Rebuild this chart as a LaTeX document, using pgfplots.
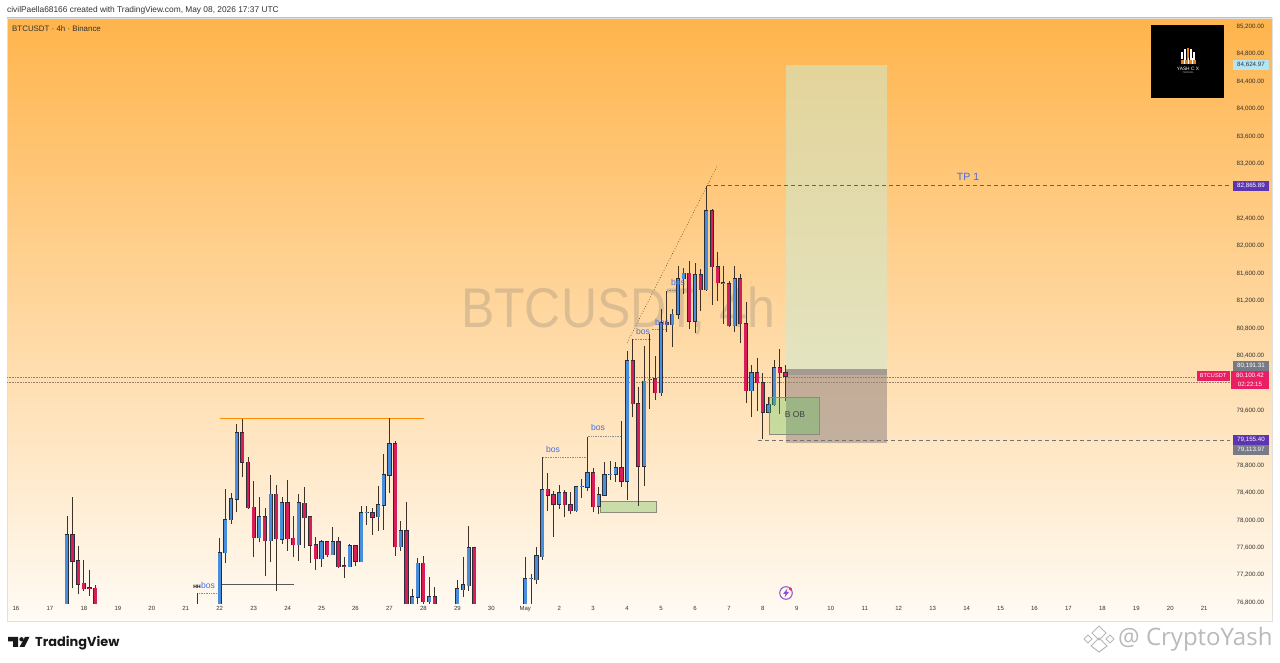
\documentclass[border=0pt]{standalone}
\usepackage{fontspec}
\setmainfont{Liberation Sans}
\newfontfamily\tvfont{Poppins}
\newfontfamily\wmfont{Open Sans}
\usepackage{pgfplots}
\usepackage{pgfplotstable}
\pgfplotsset{compat=1.18}
\definecolor{bgtop}{RGB}{255,180,76}
\definecolor{bgbot}{RGB}{255,251,245}
\definecolor{cblue}{RGB}{72,142,220}
\definecolor{cred}{RGB}{216,30,88}
\definecolor{wick}{RGB}{60,50,40}
\definecolor{edge}{RGB}{45,45,55}
\definecolor{txt}{RGB}{50,50,50}
\definecolor{tvpurple}{RGB}{94,53,177}
\definecolor{tvgrey}{RGB}{120,123,134}
\definecolor{tvpink}{RGB}{233,30,99}
\definecolor{bosblue}{RGB}{70,110,225}
\definecolor{profit}{RGB}{204,234,209}
\definecolor{loss}{RGB}{155,140,135}
\definecolor{band}{RGB}{165,155,146}
\definecolor{boxgreen}{RGB}{200,221,168}
\definecolor{boxedge}{RGB}{140,140,125}
\definecolor{bolt}{RGB}{140,80,210}
\definecolor{obgreen}{RGB}{71,200,83}
\definecolor{tvblue}{RGB}{179,229,245}
\definecolor{dotpink}{RGB}{190,110,90}
\definecolor{dotgrey}{RGB}{150,130,110}
\definecolor{tpdash}{RGB}{125,70,190}
\pgfplotstableread{
x o h l c
17.500 76700 78044 76650 77777
21.333 76600 76927 76600 76750
22.000 76700 77729 76650 77510
22.167 77510 78444 77359 77996
22.333 77992 78385 77933 78298
22.500 78292 79392 78103 79265
23.167 77729 78332 77665 78040
23.500 77690 78652 77373 78365
23.833 77709 78321 77642 78244
24.333 77627 78371 77398 78240
25.000 77423 77700 77300 77671
25.333 77486 77884 77486 77675
25.833 77311 77642 77311 77617
26.167 77384 78200 77384 78094
26.333 78094 78200 77923 78100
26.667 78035 78492 77836 78210
26.833 78204 78954 77846 78652
27.000 78642 79479 78390 79100
27.333 77602 77971 77544 77836
27.667 76700 76985 76650 76869
27.833 76863 77437 76700 77359
28.167 76800 77155 76700 76873
29.000 76700 77121 76650 76985
29.167 76971 77456 76873 77044
29.333 77033 77898 76961 77588
31.000 76700 77456 76650 77131
31.167 77131 77204 76700 77140
31.333 77117 77592 77058 77467
31.500 77456 78905 77408 78433
32.000 78219 78506 78152 78385
32.500 78123 78492 78103 78473
32.667 78473 78590 78312 78480
32.833 78467 79196 78419 78677
33.167 78190 78477 78079 78356
33.333 78350 78842 78346 78652
33.500 78652 78857 78579 78660
33.667 78657 78842 78550 78750
34.000 78555 80450 78283 80315
34.500 78773 80534 78492 80013
34.667 80033 80704 79610 80040
35.000 79844 81069 79804 80865
35.333 80840 81069 80509 80990
35.500 80990 81700 80923 81506
35.667 81506 81667 81287 81588
36.000 80888 81740 80719 81565
36.333 81346 82866 81336 82502
36.833 81440 81700 80850 81450
37.167 80821 81700 80727 81511
37.667 79877 80256 79488 80135
38.167 79561 79780 79561 79669
38.333 79669 80325 79658 80208
}\bluedata
\pgfplotstableread{
x o h l c
17.667 77777 78332 76994 77388
17.833 77394 77607 76907 77052
18.000 77067 77413 76961 76985
18.167 77000 77267 76888 76990
18.333 76994 77044 76650 76700
22.667 79265 79465 78623 78832
22.833 78832 78905 78152 78167
23.000 78175 78565 77446 77734
23.333 78040 78167 77169 77690
23.667 78365 78506 76961 77715
24.000 78244 78575 77544 77719
24.167 77723 78054 77456 77627
24.500 78234 78467 77577 78025
24.667 78035 78054 77365 77621
24.833 77627 77748 77262 77427
25.167 77675 77690 77446 77486
25.500 77675 77748 77286 77311
25.667 77325 77456 77146 77315
26.000 77617 77627 77321 77388
26.500 78094 78167 77767 78030
27.167 79100 79148 77467 77602
27.500 77836 78258 76650 76700
28.000 77359 77471 76700 76800
28.333 76873 77009 76650 76700
29.500 77588 77600 76650 76700
31.667 78438 78671 78127 78350
31.833 78361 78419 77748 78219
32.167 78385 78429 78030 78210
32.333 78210 78394 78079 78123
33.000 78677 78744 78103 78186
33.833 78750 79440 78477 78555
34.167 80315 80636 79488 79683
34.333 79683 79925 78200 78773
34.833 80048 80388 79742 79844
35.167 80873 81325 80727 80840
35.833 81588 81773 80777 80888
36.167 81569 81652 81044 81346
36.500 82502 82527 81131 81686
36.667 81686 81894 81190 81448
37.000 81433 81471 80810 80821
37.333 81511 81579 80567 80850
37.500 80850 81165 79692 79877
37.833 80135 80354 79575 79990
38.000 79990 80135 79173 79561
38.500 80208 80485 79537 80135
38.667 80135 80256 79731 80086
}\reddata
\newcommand\wicks[1]{\addplot[forget plot,no markers,draw=none,error bars/.cd,y dir=plus,y explicit,error mark=none,error bar style={line width=0.8pt,draw=wick}] table[x=x,y=l,y error plus expr=\thisrow{h}-\thisrow{l}] {#1};}
\begin{document}
\begin{tikzpicture}
\useasboundingbox (0,0) rectangle (1280pt,663pt);
\fill[white] (0,0) rectangle (1280pt,663pt);
\begin{scope}[x=1pt,y=-1pt,yshift=663pt]
  \shade[top color=bgtop,bottom color=bgbot] (7,18) rectangle (1272,621);
  \draw[black!12,line width=0.6pt] (7,18) rectangle (1272,621);
  \node[anchor=center,text=black!55,opacity=0.25,font=\fontsize{50}{50}\selectfont] at (618,311) {\scalebox{1}[1.12]{BTCUSDT, 4h}};
\end{scope}
\begin{axis}[
  at={(7pt,59.4pt)},anchor=south west,scale only axis,width=1223pt,height=585pt,
  xmin=15.735,xmax=51.76,ymin=76771,ymax=85302,
  axis line style={draw=none},major tick length=0pt,
  xtick={16,17,...,51},
  xticklabels={16,17,18,19,20,21,22,23,24,25,26,27,28,29,30,May,2,3,4,5,6,7,8,9,10,11,12,13,14,15,16,17,18,19,20,21},
  ytick={76800,77200,77600,78000,78400,78800,79600,80400,80800,81200,81600,82000,82400,83200,83600,84000,84400,84800,85200},
  scaled y ticks=false,
  yticklabel pos=right,
  /pgf/number format/fixed,
  /pgf/number format/fixed zerofill,
  /pgf/number format/precision=2,
  /pgf/number format/1000 sep={,},
  /pgf/number format/assume math mode=true,
  xticklabel style={font=\fontsize{6}{7}\selectfont,text=txt,yshift=1pt},
  yticklabel style={font=\fontsize{6.2}{7}\selectfont,text=txt,anchor=west,xshift=3pt,yshift=-1pt},
]
% position tool
\addplot[forget plot,fill=profit,fill opacity=0.55,draw=none] coordinates {(38.68,84624.97)(41.655,84624.97)(41.655,80191.31)(38.68,80191.31)} -- cycle;
\addplot[forget plot,fill=loss,fill opacity=0.6,draw=none] coordinates {(38.68,80100.42)(41.655,80100.42)(41.655,79113.97)(38.68,79113.97)} -- cycle;
\addplot[forget plot,fill=band,draw=none] coordinates {(38.68,80191.31)(41.655,80191.31)(41.655,80100.42)(38.68,80100.42)} -- cycle;
% horizontal levels
\addplot[forget plot,dotpink,densely dotted,line width=0.6pt] coordinates {(15.735,80067)(50.75,80067)};
\addplot[forget plot,dotgrey,densely dotted,line width=0.6pt] coordinates {(15.735,79994)(51.76,79994)};
\addplot[forget plot,tpdash,dash pattern=on 4pt off 3pt,line width=0.7pt] coordinates {(36.35,82866)(51.76,82866)};
\addplot[forget plot,black!55,dash pattern=on 4pt off 3pt,line width=0.7pt] coordinates {(37.86,79155)(51.76,79155)};
\addplot[forget plot,orange!90!yellow,line width=1.1pt] coordinates {(22.0,79476)(28.02,79476)};
\addplot[forget plot,black!65,line width=0.7pt] coordinates {(22.07,77058)(24.19,77058)};
\addplot[forget plot,black!45,densely dotted,line width=0.7pt] coordinates {(21.39,76927)(21.95,76927)};
\addplot[forget plot,black!45,densely dotted,line width=0.7pt] coordinates {(31.52,78905)(32.84,78905)};
\addplot[forget plot,black!45,densely dotted,line width=0.7pt] coordinates {(32.84,79211)(33.84,79211)};
\addplot[forget plot,black!45,densely dotted,line width=0.7pt] coordinates {(34.17,80621)(34.69,80621)};
\addplot[forget plot,black!45,densely dotted,line width=0.7pt] coordinates {(34.72,80763)(35.17,80763)};
\addplot[forget plot,black!45,densely dotted,line width=0.7pt] coordinates {(35.17,81336)(35.5,81336)};
\addplot[forget plot,black!40!brown,dotted,line width=0.7pt] coordinates {(34.0,80573)(36.67,83169)};
% boxes
\addplot[forget plot,fill=boxgreen,draw=boxedge,line width=0.8pt] coordinates {(33.2,78263)(34.85,78263)(34.85,78098)(33.2,78098)} -- cycle;
% candles
\wicks{\bluedata}
\wicks{\reddata}
\addplot[forget plot,no markers,draw=none,error bars/.cd,y dir=plus,y explicit,error mark=none,error bar style={line width=4.2pt,draw=edge}] table[x=x,y expr=\thisrow{o}-8,y error plus expr=\thisrow{c}-\thisrow{o}+16] {\bluedata};
\addplot[forget plot,no markers,draw=none,error bars/.cd,y dir=plus,y explicit,error mark=none,error bar style={line width=4.2pt,draw=edge}] table[x=x,y expr=\thisrow{c}-8,y error plus expr=\thisrow{o}-\thisrow{c}+16] {\reddata};
\addplot[forget plot,no markers,draw=none,error bars/.cd,y dir=plus,y explicit,error mark=none,error bar style={line width=2.9pt,draw=cblue}] table[x=x,y=o,y error plus expr=\thisrow{c}-\thisrow{o}] {\bluedata};
\addplot[forget plot,no markers,draw=none,error bars/.cd,y dir=plus,y explicit,error mark=none,error bar style={line width=2.9pt,draw=cred}] table[x=x,y=c,y error plus expr=\thisrow{o}-\thisrow{c}] {\reddata};
% B OB box over candles
\addplot[forget plot,fill=obgreen,fill opacity=0.3,draw=boxedge,line width=0.9pt] coordinates {(38.18,79780)(39.68,79780)(39.68,79231)(38.18,79231)} -- cycle;
\end{axis}
\begin{scope}[x=1pt,y=-1pt,yshift=663pt]
  \node[anchor=west,text=txt,inner sep=0,font=\fontsize{8.35}{9}\selectfont] at (7,10) {civilPaella68166 created with TradingView.com, May 08, 2026 17:37 UTC};
  \node[anchor=west,text=txt,inner sep=0,font=\fontsize{7.9}{9}\selectfont] at (12,29) {BTCUSDT · 4h · Binance};
  % annotations
  \begin{scope}[every node/.style={text=bosblue,inner sep=0,font=\fontsize{8.6}{10}\selectfont}]
    \node at (208,585) {bos};
    \node at (553,449) {bos};
    \node at (598,427) {bos};
    \node at (643,331) {bos};
    \node at (662,322) {bos};
    \node at (678,282) {bos};
    \node[font=\fontsize{10.5}{12}\selectfont] at (968,177) {TP 1};
  \end{scope}
  \node[text=black,inner sep=0,font=\bfseries\fontsize{5}{6}\selectfont] at (197,586.5) {HH};
  \node[text=black!75,inner sep=0,font=\fontsize{8.5}{10}\selectfont] at (795,415) {B OB};
  % lightning
  \draw[bolt,line width=1pt] (786,593) circle (6.3);
  \fill[bolt] (787.5,588.5) -- (783,594) -- (785.5,594) -- (784.5,597.5) -- (789,592) -- (786.5,592) -- cycle;
  \fill[tvpink] (790.5,589) circle (1.7);
  % yash logo
  \fill[black] (1151,25) rectangle (1224,98);
  \foreach \cx/\top/\bot/\col in {1182/52/59/white,1185/49/64/white,1188/48/64/orange!70!brown,1191/49/64/white,1194/52/60/white}
    \draw[\col,line width=1.8pt] (\cx,\top) -- (\cx,\bot);
  \fill[orange!70!brown] (1181,60) rectangle (1196,64);
  \foreach \cx in {1184,1188,1192} \draw[white,line width=0.8pt] (\cx,58) -- (\cx,64);
  \node[text=white,inner sep=0,font=\fontsize{4.8}{6}\selectfont] at (1188,69) {YASH C X};
  \node[text=white!70!black,inner sep=0,font=\fontsize{2.5}{3}\selectfont] at (1188,73) {TRADING};
  % price labels
  \begin{scope}[every node/.style={inner sep=0,minimum width=36pt,minimum height=10.5pt,font=\fontsize{6.2}{7}\selectfont}]
    \node[fill=tvblue,text=txt] at (1251,65) {84,624.97};
    \node[fill=tvpurple,text=white] at (1251,186) {82,865.89};
    \node[fill=tvgrey,text=white] at (1251,366) {80,191.31};
    \node[fill=tvgrey,text=white] at (1251,450) {79,113.97};
    \node[fill=tvpurple,text=white] at (1251,440) {79,155.40};
  \end{scope}
  \fill[tvpink] (1231,371) rectangle (1269,389);
  \node[text=white,inner sep=0,font=\fontsize{6.2}{7}\selectfont] at (1250,376) {80,100.42};
  \node[text=white,inner sep=0,font=\fontsize{6.2}{7}\selectfont] at (1250,384) {02:22:15};
  \node[fill=tvpink,text=white,inner sep=0,minimum width=33pt,minimum height=10.5pt,font=\fontsize{5.6}{7}\selectfont] at (1213,376) {BTCUSDT};
  % TradingView logo
  \fill[black!90] (8,637) -- (18,637) -- (18,647) -- (13,647) -- (13,641.5) -- (8,641.5) -- cycle;
  \fill[black!90] (21.5,639.3) circle (2.2);
  \fill[black!90] (25,637) -- (29.5,637) -- (24.5,647) -- (19.5,647) -- cycle;
  \node[anchor=west,text=black!90,inner sep=0,font=\tvfont\fontsize{12.9}{15}\selectfont] at (35,643.5) {\textbf{TradingView}};
  % bottom right watermark
  \begin{scope}[black!28,line width=1pt]
    \draw (1099,626) -- (1106,633) -- (1099,640) -- (1092,633) -- cycle;
    \draw (1099,638) -- (1107,646) -- (1099,652) -- (1091,646) -- cycle;
    \draw (1088,635) -- (1084,639) -- (1088,643) -- (1092,639) -- cycle;
    \draw (1110,635) -- (1106,639) -- (1110,643) -- (1114,639) -- cycle;
  \end{scope}
  \node[anchor=west,text=black!27,inner sep=0,font=\wmfont\fontsize{24}{26}\selectfont] at (1118,639) {@ CryptoYash};
\end{scope}
\end{tikzpicture}
\end{document}
